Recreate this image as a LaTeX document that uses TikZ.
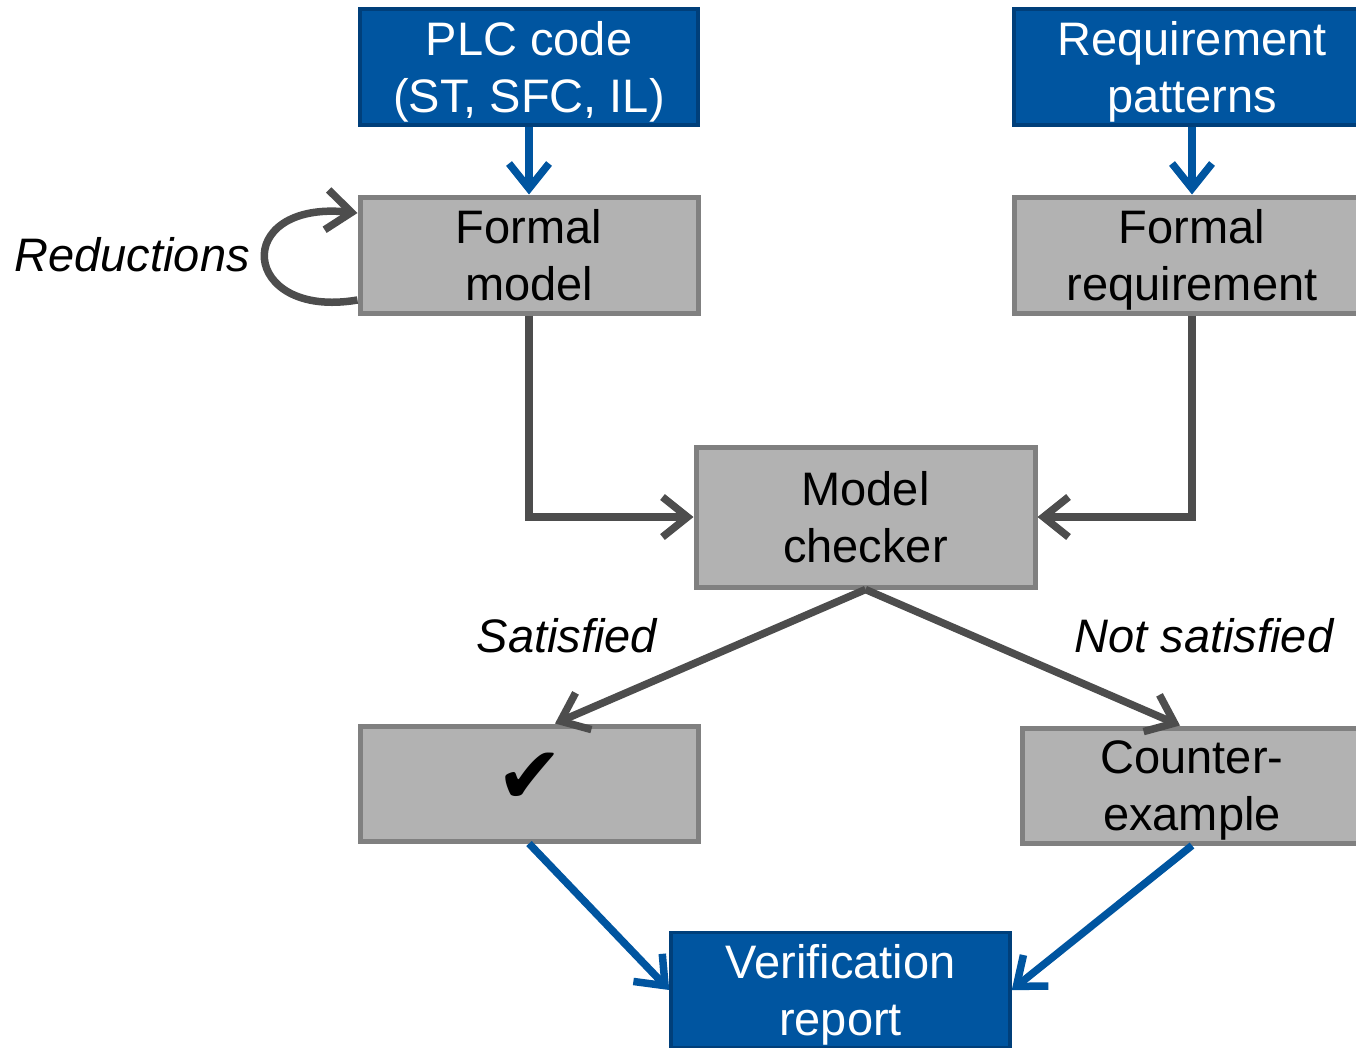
\documentclass[tikz,border=0pt]{standalone}
\usepackage{fontspec}
\setmainfont{Liberation Sans}
\newfontfamily\symfont{DejaVu Sans}
\usetikzlibrary{arrows.meta}
\definecolor{cernblue}{HTML}{0055A0}
\definecolor{blueborder}{HTML}{003F7A}
\definecolor{boxgray}{HTML}{B2B2B2}
\definecolor{boxborder}{HTML}{808080}
\definecolor{linegray}{HTML}{4D4D4D}
\tikzset{
  boxbase/.style={align=center, inner sep=0pt, minimum height=116pt,
    font=\fontsize{47}{57}\selectfont},
  bluebox/.style={boxbase, draw=blueborder, line width=3.5pt, fill=cernblue, text=white, text depth=0pt},
  graybox/.style={boxbase, draw=boxborder, line width=5pt, fill=boxgray, text=black, text depth=0pt},
  lbl/.style={font=\fontsize{47}{57}\selectfont\itshape, inner sep=0pt},
  tip/.style={-{Straight Barb[length=25pt,width=40pt,line width=7.5pt]}},
  blueline/.style={tip, draw=cernblue, line width=7.5pt},
  grayline/.style={tip, draw=linegray, line width=7.5pt},
}
\begin{document}
\begin{tikzpicture}[x=1pt,y=-1pt]
\clip (0,0) rectangle (1356,1047);
\node[bluebox, minimum width=338pt] (plc) at (529,67) {PLC code\\(ST, SFC, IL)};
\node[bluebox, minimum width=356pt] (req) at (1192,67) {Requirement\\patterns};
\node[graybox, minimum width=338pt] (fm) at (529,255) {Formal\\model};
\node[graybox, minimum width=356pt] (fr) at (1192,255) {Formal\\requirement};
\node[graybox, minimum width=339pt, minimum height=140pt] (mc) at (865.5,517) {Model\\checker};
\node[graybox, minimum width=338pt, minimum height=115pt] (ok) at (529,783.5) {};
\node[inner sep=0pt, font=\symfont\fontsize{80}{80}\selectfont] (tick) at (530,778) {✔};
\node[graybox, minimum width=340pt, minimum height=115pt] (ce) at (1192,785.5) {Counter-\\example};
\node[bluebox, minimum width=339pt, minimum height=115pt] (vr) at (840.5,990) {Verification\\report};

\node[lbl, anchor=east] (red) at (250,255) {Reductions};
\node[lbl] (sat) at (567,636) {Satisfied};
\node[lbl] (nsat) at (1204,636) {Not satisfied};

\draw[blueline] (plc.south) -- (fm.north);
\draw[blueline] (req.south) -- (fr.north);
\draw[grayline] (fm.south) |- (mc.west);
\draw[grayline] (fr.south) |- (mc.east);
\draw[grayline] (mc.south) -- ([xshift=26pt]ok.north);
\draw[grayline] (mc.south) -- ([xshift=-12pt]ce.north);
\draw[blueline] (ok.south) -- (vr.west);
\draw[blueline] (ce.south) -- (vr.east);
\draw[grayline] ([yshift=-45pt]fm.west) .. controls (240,320) and (230,200) .. ([yshift=42pt]fm.west);
\end{tikzpicture}
\end{document}
